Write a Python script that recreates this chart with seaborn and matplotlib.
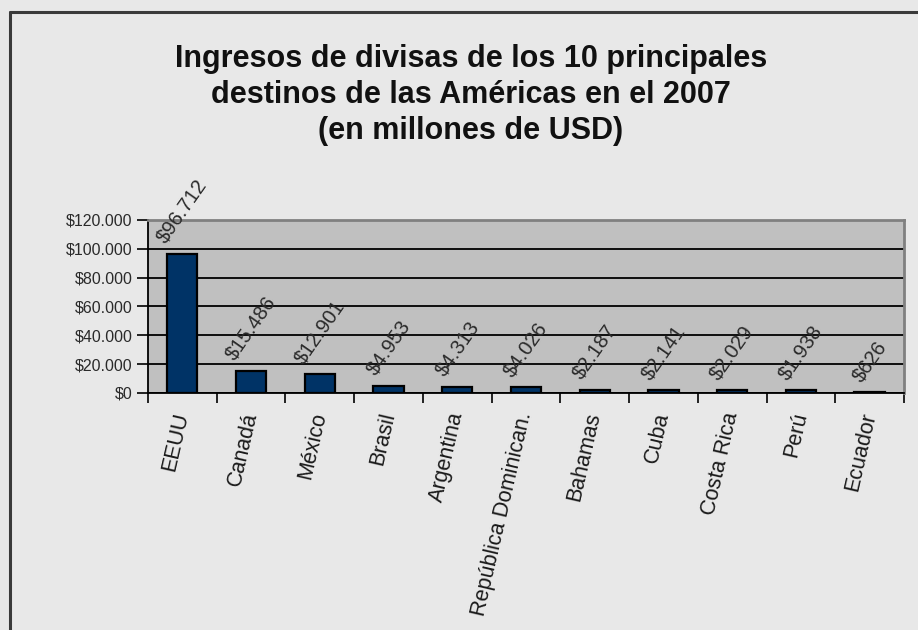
import matplotlib
matplotlib.use("Agg")
import matplotlib.pyplot as plt
from matplotlib.lines import Line2D
from matplotlib.ticker import FuncFormatter, FixedLocator
import seaborn as sns
import pandas as pd

# Foreign-exchange income of the top destinations (millions of USD)
destinos = ["EEUU", "Canadá", "México", "Brasil", "Argentina",
            "República Dominican.", "Bahamas", "Cuba", "Costa Rica",
            "Perú", "Ecuador"]
ingresos = [96712, 15486, 12901, 4953, 4313, 4026, 2187, 2141, 2029, 1938, 626]
y_ticks = [0, 20000, 40000, 60000, 80000, 100000, 120000]

titulo = ("Ingresos de divisas de los 10 principales\n"
          "destinos de las Américas en el 2007\n"
          "(en millones de USD)")

df = pd.DataFrame({"destino": destinos, "ingreso": ingresos})

sns.set_theme(style="white")
plt.rcParams["font.family"] = ["Liberation Sans", "DejaVu Sans"]

fig = plt.figure(figsize=(9.18, 6.30), dpi=100)
fig.patch.set_facecolor("#e8e8e8")
ax = fig.add_axes([0.1612, 0.3762, 0.8235, 0.2746])
ax.set_facecolor("#c0c0c0")


def pesos(v, _pos=None):
    return "$" + f"{int(v):,}".replace(",", ".")


sns.barplot(data=df, x="destino", y="ingreso", color="#003366",
            saturation=1, width=0.44, edgecolor="black", linewidth=1.6,
            ax=ax, zorder=3)

ax.set_ylim(0, 120000)
ax.set_xlim(-0.5, len(destinos) - 0.5)
ax.yaxis.set_major_locator(FixedLocator(y_ticks))
ax.yaxis.set_major_formatter(FuncFormatter(pesos))
ax.grid(axis="y", color="black", linewidth=1.3, zorder=1)
ax.set_axisbelow(True)
ax.set_xlabel("")
ax.set_ylabel("")

# Spines: dark axis lines, grey frame on top and right
for s in ("left", "bottom"):
    ax.spines[s].set_color("black")
    ax.spines[s].set_linewidth(1.3)
for s in ("top", "right"):
    ax.spines[s].set_color("#808080")
    ax.spines[s].set_linewidth(2.0)

ax.tick_params(axis="y", which="major", direction="out", length=8,
               width=1.2, color="black", left=True, labelsize=11.5,
               labelcolor="#2a2a2a", pad=3)

# Category ticks sit on the boundaries between bars
ax.set_xticks([i + 0.5 for i in range(-1, len(destinos))], minor=True)
ax.tick_params(axis="x", which="minor", direction="out", length=7,
               width=1.2, color="black", bottom=True)
ax.tick_params(axis="x", which="major", length=0, pad=14)
ax.set_xticks(range(len(destinos)))
ax.set_xticklabels(destinos, rotation=77, ha="right", va="center",
                   rotation_mode="anchor", fontsize=15.5, color="#1a1a1a")

# Value labels above each bar
for i, v in enumerate(ingresos):
    ax.annotate(pesos(v), xy=(i, v), xytext=(0, 5), textcoords="offset points",
                rotation=55, ha="center", va="bottom", fontsize=14.5,
                color="#2a2a2a", annotation_clip=False, zorder=5)

fig.text(0.513, 0.93, titulo, ha="center", va="top", fontsize=22,
         fontweight="bold", color="#111111", linespacing=1.25)

# Chart frame along the left and top
fig.add_artist(Line2D([10 / 918, 10 / 918], [0, 1 - 12 / 630],
                      color="#3a3a3a", linewidth=2.2))
fig.add_artist(Line2D([10 / 918, 1], [1 - 12 / 630, 1 - 12 / 630],
                      color="#3a3a3a", linewidth=2.2))

fig.savefig("out.png", dpi=100, facecolor=fig.get_facecolor())
